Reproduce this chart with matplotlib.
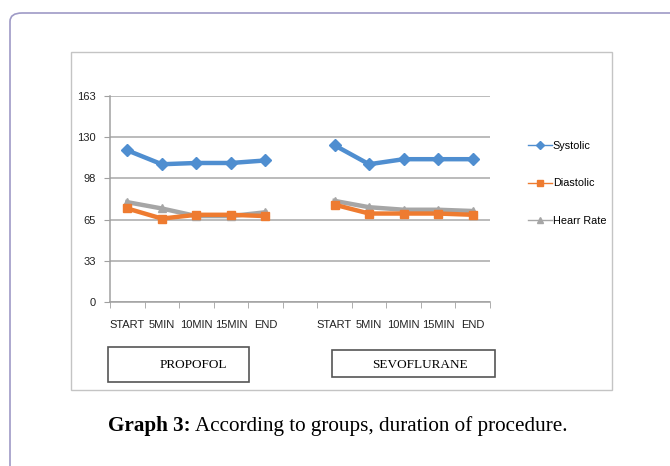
import numpy as np
import matplotlib
matplotlib.use("Agg")
import matplotlib.pyplot as plt
from matplotlib.patches import FancyBboxPatch, Rectangle
from matplotlib.lines import Line2D


# ============================================================
# Values per time point for each anaesthetic group.
# ============================================================

time_points = ["START", "5MIN", "10MIN", "15MIN", "END"]
groups = ["PROPOFOL", "SEVOFLURANE"]

propofol_systolic = [120, 109, 110, 110, 112]
propofol_diastolic = [74, 66, 69, 69, 68]
propofol_heart = [79, 74, 68, 68, 71]

sevo_systolic = [124, 109, 113, 113, 113]
sevo_diastolic = [77, 70, 70, 70, 69]
sevo_heart = [80, 75, 73, 73, 72]

y_max = 163


# ============================================================
# Figure with the outer frame and the chart box.
# ============================================================

W, H = 670, 466
fig = plt.figure(figsize=(W / 100, H / 100), dpi=100)


def fx(px):
    return px / W


def fy(py):
    return 1 - py / H


outer = FancyBboxPatch(
    (fx(10), fy(480)), fx(700) - fx(10), fy(13) - fy(480),
    boxstyle="round,pad=0,rounding_size=0.018",
    transform=fig.transFigure, fill=False,
    edgecolor="#9e9ac6", linewidth=1.2,
)
fig.patches.append(outer)

chart_box = Rectangle(
    (fx(71), fy(390)), fx(612) - fx(71), fy(52) - fy(390),
    transform=fig.transFigure, fill=False,
    edgecolor="#c4c4c4", linewidth=1.0,
)
fig.patches.append(chart_box)


# ============================================================
# Line chart: the two groups share one category axis.
# ============================================================

ax = fig.add_axes([fx(110), fy(302), fx(490) - fx(110), fy(96) - fy(302)])

x_prop = np.arange(len(time_points))
x_sevo = x_prop + len(time_points) + 1

series = [
    ("Systolic", propofol_systolic, sevo_systolic, "#4f8ed0", "D", 6),
    ("Diastolic", propofol_diastolic, sevo_diastolic, "#ee7b30", "s", 6),
    ("Hearr Rate", propofol_heart, sevo_heart, "#a6a6a6", "^", 6),
]

for name, prop, sevo, color, marker, ms in series[::-1]:
    for xs, ys in [(x_prop, prop), (x_sevo, sevo)]:
        ax.plot(xs, ys, color=color, linewidth=3.2, marker=marker,
                markersize=ms, zorder=3)

ax.set_xlim(-0.5, 2 * len(time_points) + 0.5)
ax.set_ylim(0, y_max)

yticks = np.linspace(0, y_max, 6)
ax.set_yticks(yticks)
ax.set_yticklabels([f"{v:.0f}" for v in yticks])
ax.yaxis.grid(True, color="#a8a8a8", linewidth=1.1)
ax.set_axisbelow(True)

ax.set_xticks(np.concatenate([x_prop, x_sevo]))
ax.set_xticklabels(time_points * 2)
ax.set_xticks(np.arange(-0.5, 2 * len(time_points) + 1), minor=True)
ax.tick_params(axis="x", which="major", length=0, pad=13)
ax.tick_params(axis="x", which="minor", length=4, color="#a0a0a0")
ax.tick_params(axis="y", length=4, color="#a0a0a0", pad=6)

sans = ["Liberation Sans", "DejaVu Sans"]
for label in ax.get_xticklabels() + ax.get_yticklabels():
    label.set_family(sans)
    label.set_fontsize(8)
    label.set_color("#222222")

for side in ["top", "right"]:
    ax.spines[side].set_visible(False)
for side in ["left", "bottom"]:
    ax.spines[side].set_color("#a0a0a0")
    ax.spines[side].set_linewidth(1.1)


# ============================================================
# Legend with thin sample lines.
# ============================================================

handles = [
    Line2D([], [], color=color, linewidth=1.0, marker=marker, markersize=4)
    for _, _, _, color, marker, _ in series
]
fig.legend(
    handles, [s[0] for s in series],
    loc="upper left", bbox_to_anchor=(fx(518), fy(131)),
    frameon=False, handlelength=2.2, handletextpad=0.1,
    labelspacing=2.55, prop={"family": sans, "size": 7.8},
)


# ============================================================
# Group name boxes under the axis.
# ============================================================

serif = ["Liberation Serif", "DejaVu Serif"]
boxes = [(108, 347, 249, 382, 193), (332, 350, 495, 377, 420)]
for name, (x0, y0, x1, y1, xc) in zip(groups, boxes):
    fig.patches.append(Rectangle(
        (fx(x0), fy(y1)), fx(x1) - fx(x0), fy(y0) - fy(y1),
        transform=fig.transFigure, fill=False,
        edgecolor="#555555", linewidth=1.2,
    ))
    fig.text(fx(xc), fy((y0 + y1) / 2 + 1), name,
             ha="center", va="center", family=serif, fontsize=9.5)


# ============================================================
# Caption: bold lead-in followed by the regular description.
# ============================================================

lead = fig.text(fx(108), fy(426), "Graph 3:", ha="left", va="center",
                family=serif, fontsize=15.2, weight="bold")
fig.canvas.draw()
lead_box = lead.get_window_extent()
fig.text(lead_box.x1 / W + fx(4), fy(426),
         "According to groups, duration of procedure.",
         ha="left", va="center", family=serif, fontsize=15.2)

fig.savefig("out.png", dpi=100)
